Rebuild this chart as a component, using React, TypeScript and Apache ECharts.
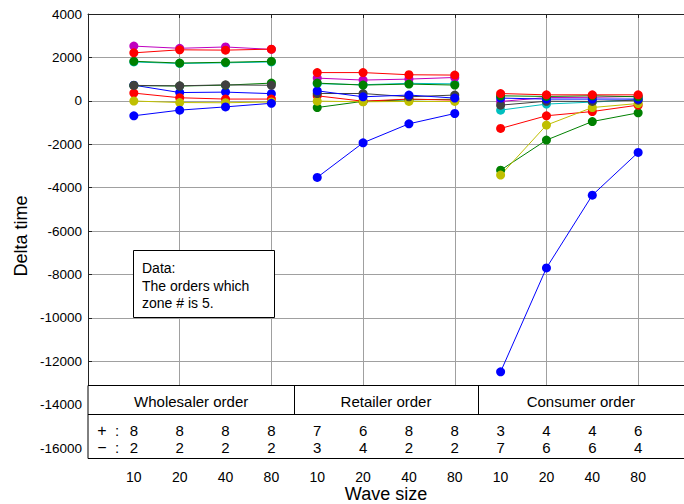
import React, { useEffect, useRef } from "react";
import * as echarts from "echarts";

const waveSizes = [10, 20, 40, 80];
const orderTypes = ["Wholesaler order", "Retailer order", "Consumer order"];
const lineColors = ["#0000ff", "#008000", "#ff0000", "#00bfbf", "#bf00bf", "#bfbf00", "#404040", "#0000ff", "#008000", "#ff0000"];

// rows follow lineColors order; columns follow waveSizes
const wholesalerDelta = [
  [720, 380, 400, 330],
  [700, 680, 720, 815],
  [355, 140, 80, 80],
  [1790, 1720, 1750, 1790],
  [2520, 2420, 2480, 2370],
  [-10, -80, -90, -55],
  [710, 690, 735, 715],
  [-690, -430, -280, -115],
  [1820, 1740, 1775, 1820],
  [2210, 2350, 2335, 2380],
];
const retailerDelta = [
  [-3530, -1935, -1060, -585],
  [-310, -25, 45, 70],
  [230, -20, 80, 30],
  [790, 740, 805, 780],
  [1045, 955, 1000, 1075],
  [-15, -45, -30, -30],
  [335, 335, 185, 265],
  [460, 185, 265, 125],
  [815, 725, 770, 725],
  [1300, 1300, 1200, 1185],
];
const consumerDelta = [
  [-12490, -7700, -4350, -2380],
  [-3195, -1810, -955, -555],
  [-1275, -690, -495, -200],
  [-430, -150, -60, 50],
  [-30, 150, 160, 205],
  [-3425, -1120, -310, -125],
  [-200, -20, -30, 30],
  [125, 80, 80, 80],
  [230, 200, 230, 185],
  [335, 275, 275, 275],
];
const plusCounts = [8, 8, 8, 8, 7, 6, 8, 8, 3, 4, 4, 6];
const minusCounts = [2, 2, 2, 2, 3, 4, 2, 2, 7, 6, 6, 4];

const FONT = '"Liberation Sans", Arial, Helvetica, sans-serif';

export default function App() {
  const ref = useRef<HTMLDivElement>(null);
  useEffect(() => {
    if (!ref.current) return;
    const chart = echarts.init(ref.current, null, { renderer: "svg" });
    const groups = [wholesalerDelta, retailerDelta, consumerDelta];
    const series: any[] = [];
    groups.forEach((rows, g) => {
      rows.forEach((vals, i) => {
        const c = lineColors[i];
        series.push({
          type: "line",
          data: vals.map((v, j) => [g * waveSizes.length + j + 1, v]),
          symbol: "circle",
          symbolSize: 9,
          showSymbol: true,
          lineStyle: { width: 1, color: c },
          itemStyle: { color: c },
          emphasis: { disabled: true },
          silent: true,
        });
      });
    });
    const gridLine = { show: true, lineStyle: { color: "#a0a0a0", width: 1 } };
    chart.setOption({
      animation: false,
      textStyle: { fontFamily: FONT },
      grid: { left: 88, top: 14, width: 603, height: 434 },
      xAxis: [
        {
          type: "value", min: 0, max: 13, interval: 2, position: "bottom",
          axisLine: { show: false }, axisTick: { show: false }, axisLabel: { show: false },
          splitLine: gridLine,
        },
        {
          type: "value", min: 0, max: 13, interval: 2, position: "top",
          axisLine: { show: true, onZero: false, lineStyle: { color: "#222", width: 1 } },
          axisTick: { show: true, inside: true, length: 4, lineStyle: { color: "#222" } },
          axisLabel: { show: false }, splitLine: { show: false },
        },
      ],
      yAxis: {
        type: "value", min: -16000, max: 4000, interval: 2000,
        axisLine: { show: true, onZero: false, lineStyle: { color: "#222", width: 1 } },
        axisTick: { show: true, inside: true, length: 4, lineStyle: { color: "#222" } },
        axisLabel: { color: "#000", fontSize: 13.5, margin: 6, fontFamily: FONT, formatter: (v: number) => String(v) },
        splitLine: gridLine,
      },
      series,
    });

    const px = (x: number) => chart.convertToPixel({ gridIndex: 0 }, [x, 0])[0] as number;
    const x0 = px(0);
    const xEnd = px(13);
    const top = 385.5, mid = 414.5, bot = 458.5;
    const lineStyle = { stroke: "#000", lineWidth: 1 };
    const els: any[] = [];
    els.push({ type: "rect", z: 50, shape: { x: x0, y: top, width: xEnd - x0 + 10, height: bot - top }, style: { fill: "#fff", ...lineStyle } });
    els.push({ type: "line", z: 51, shape: { x1: x0, y1: mid, x2: xEnd + 10, y2: mid }, style: lineStyle });
    const bounds = [0, 4.5, 8.5, 13];
    [4.5, 8.5].forEach((b) => {
      const bx = Math.round(px(b)) + 0.5;
      els.push({ type: "line", z: 51, shape: { x1: bx, y1: top, x2: bx, y2: mid }, style: lineStyle });
    });
    orderTypes.forEach((name, g) => {
      els.push({
        type: "text", z: 52, x: (px(bounds[g]) + px(bounds[g + 1])) / 2, y: 401,
        style: { text: name, fontSize: 15, fontFamily: FONT, fill: "#000", align: "center", verticalAlign: "middle" },
      });
    });
    const txt = (text: string, x: number, y: number, size = 15) => ({
      type: "text", z: 52, x, y,
      style: { text, fontSize: size, fontFamily: FONT, fill: "#000", align: "center", verticalAlign: "middle" },
    });
    els.push(txt("+", 102, 430, 16));
    els.push(txt(":", 117, 430));
    els.push(txt("\u2212", 102, 447, 16));
    els.push(txt(":", 117, 447));
    plusCounts.forEach((v, k) => els.push(txt(String(v), px(k + 1), 430)));
    minusCounts.forEach((v, k) => els.push(txt(String(v), px(k + 1), 447)));
    for (let k = 0; k < 12; k++) {
      els.push(txt(String(waveSizes[k % waveSizes.length]), px(k + 1), 477, 14));
    }
    els.push(txt("Wave size", (x0 + xEnd) / 2, 494, 18));
    els.push({
      type: "text", z: 52, x: 21, y: 236, rotation: Math.PI / 2,
      style: { text: "Delta time", fontSize: 18, fontFamily: FONT, fill: "#000", align: "center", verticalAlign: "middle" },
    });
    // annotation box
    els.push({ type: "rect", z: 50, shape: { x: 133.5, y: 250.5, width: 141, height: 67 }, style: { fill: "#fff", ...lineStyle } });
    ["Data:", "The orders which", "zone # is 5."].forEach((t, i) => {
      els.push({
        type: "text", z: 52, x: 142, y: 268 + i * 17.5,
        style: { text: t, fontSize: 14, fontFamily: FONT, fill: "#000", align: "left", verticalAlign: "middle" },
      });
    });
    chart.setOption({ graphic: { elements: els } });
    return () => chart.dispose();
  }, []);
  return (
    <div
      ref={ref}
      style={{ position: "fixed", left: 0, top: 0, width: 684, height: 504, background: "#fff" }}
    />
  );
}
